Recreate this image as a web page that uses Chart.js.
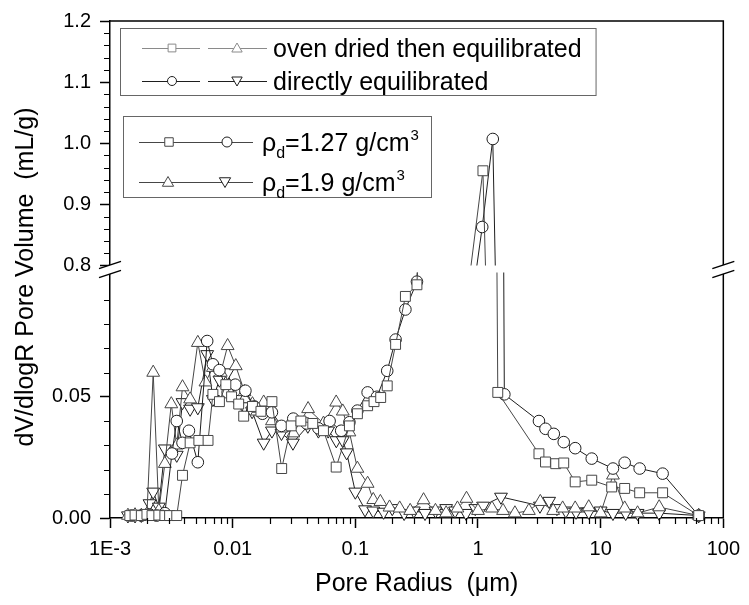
<!DOCTYPE html>
<html lang="en">
<head>
<meta charset="UTF-8">
<title>Pore size distribution</title>
<script src="https://cdn.jsdelivr.net/npm/chart.js"></script>
<style>
  body { margin: 0; background: #fff; }
</style>
</head>
<body>
<canvas id="myChart" width="749" height="605"></canvas>
<script>
// pore radius (um) and dV/dlogR (mL/g)
const sqX = [0.00145, 0.0016, 0.0018, 0.002, 0.0022, 0.0025, 0.0028, 0.00306, 0.0035, 0.0039, 0.0045, 0.0053, 0.0063, 0.0069, 0.0078, 0.0088, 0.0098, 0.0112, 0.0123, 0.0145, 0.017, 0.0209, 0.0251, 0.03, 0.036, 0.045, 0.055, 0.0698, 0.0895, 0.104, 0.126, 0.142, 0.161, 0.182, 0.213, 0.256, 0.318, 1.097, 1.45, 3.14, 3.55, 4.3, 5.0, 6.2, 8.46, 12.3, 15.7, 20.8, 32, 63];
const sqY = [0.001, 0.0012, 0.001, 0.0015, 0.001, 0.0012, 0.001, 0.001, 0.001, 0.0176, 0.031, 0.032, 0.032, 0.051, 0.048, 0.055, 0.050, 0.047, 0.042, 0.046, 0.044, 0.048, 0.0204, 0.038, 0.040, 0.039, 0.036, 0.021, 0.038, 0.043, 0.0463, 0.048, 0.0497, 0.0545, 0.0716, 0.0914, 0.0962, 0.955, 0.0518, 0.0265, 0.0231, 0.0224, 0.0227, 0.0149, 0.0156, 0.0128, 0.0122, 0.0104, 0.0104, 0.001];

const ciX = [0.0015, 0.0018, 0.0021, 0.0024, 0.0028, 0.0032, 0.0035, 0.0039, 0.0044, 0.0052, 0.0062, 0.0069, 0.0078, 0.0091, 0.0105, 0.0127, 0.015, 0.0175, 0.0209, 0.025, 0.0312, 0.04, 0.05, 0.0617, 0.0767, 0.0895, 0.104, 0.126, 0.15, 0.182, 0.213, 0.256, 0.318, 1.083, 1.32, 1.64, 3.14, 3.55, 4.15, 5.0, 6.2, 8.46, 12.6, 15.7, 20.8, 32, 63];
const ciY = [0.001, 0.001, 0.0015, 0.001, 0.002, 0.0266, 0.040, 0.031, 0.036, 0.023, 0.073, 0.0634, 0.061, 0.0518, 0.055, 0.0525, 0.046, 0.043, 0.0436, 0.038, 0.041, 0.039, 0.037, 0.040, 0.036, 0.0395, 0.0443, 0.0518, 0.050, 0.0607, 0.0736, 0.086, 0.0975, 0.863, 1.007, 0.051, 0.040, 0.0368, 0.0347, 0.0313, 0.0288, 0.0245, 0.0204, 0.0228, 0.0204, 0.0183, 0.001];

const trX = [0.0014, 0.0016, 0.0018, 0.002, 0.00225, 0.0025, 0.0028, 0.00316, 0.0035, 0.0039, 0.0045, 0.0052, 0.006, 0.0069, 0.008, 0.0091, 0.0106, 0.0125, 0.0145, 0.0158, 0.0179, 0.0209, 0.025, 0.0312, 0.0412, 0.055, 0.0698, 0.079, 0.0895, 0.104, 0.126, 0.14, 0.16, 0.19, 0.23, 0.28, 0.36, 0.45, 0.55, 0.68, 0.806, 1.0, 1.3, 1.6, 2.0, 2.6, 3.22, 4.1, 4.9, 6.2, 8.0, 10, 12.6, 15.7, 20, 30, 63];
const trY = [0.001, 0.0012, 0.001, 0.0015, 0.060, 0.003, 0.0224, 0.047, 0.030, 0.054, 0.049, 0.0723, 0.056, 0.062, 0.060, 0.071, 0.0627, 0.052, 0.047, 0.044, 0.0477, 0.040, 0.037, 0.035, 0.045, 0.039, 0.0477, 0.044, 0.0354, 0.0204, 0.0142, 0.0075, 0.0067, 0.0044, 0.004, 0.003, 0.0074, 0.003, 0.002, 0.004, 0.008, 0.003, 0.004, 0.003, 0.002, 0.003, 0.0067, 0.003, 0.004, 0.004, 0.0045, 0.002, 0.0176, 0.004, 0.002, 0.0045, 0.001];

const itX = [0.0014, 0.0016, 0.0018, 0.0021, 0.00225, 0.0025, 0.0028, 0.0035, 0.0039, 0.0045, 0.0052, 0.0062, 0.0069, 0.0078, 0.0091, 0.0106, 0.0125, 0.0144, 0.0179, 0.0209, 0.025, 0.031, 0.041, 0.05, 0.06, 0.07, 0.079, 0.085, 0.1, 0.12, 0.14, 0.17, 0.2, 0.25, 0.3, 0.37, 0.45, 0.55, 0.65, 0.8, 0.95, 1.1, 1.54, 3.2, 3.8, 4.4, 5.2, 6.3, 8, 10, 12.6, 16, 20, 30, 63];
const itY = [0.001, 0.001, 0.0012, 0.006, 0.0108, 0.0046, 0.0286, 0.026, 0.0477, 0.045, 0.0456, 0.0675, 0.049, 0.057, 0.060, 0.049, 0.046, 0.044, 0.031, 0.036, 0.035, 0.031, 0.038, 0.036, 0.036, 0.032, 0.032, 0.027, 0.0108, 0.0035, 0.003, 0.0025, 0.004, 0.002, 0.003, 0.002, 0.003, 0.004, 0.003, 0.002, 0.004, 0.005, 0.0087, 0.005, 0.007, 0.004, 0.003, 0.0025, 0.0025, 0.003, 0.002, 0.002, 0.002, 0.002, 0.001];

// tick labels
const xDecades = [0.001, 0.01, 0.1, 1, 10, 100];
const xDecadeLabels = ['1E-3', '0.01', '0.1', '1', '10', '100'];
const yLowTicks = [0, 0.01, 0.02, 0.03, 0.04, 0.05, 0.06, 0.07, 0.08, 0.09];
const yLowLabels = ['0.00', '', '', '', '', '0.05', '', '', '', ''];
const yHighTicks = [0.8, 0.82, 0.84, 0.86, 0.88, 0.9, 0.92, 0.94, 0.96, 0.98, 1.0, 1.02, 1.04, 1.06, 1.08, 1.1, 1.12, 1.14, 1.16, 1.18, 1.2];
const yHighLabels = ['0.8', '', '', '', '', '0.9', '', '', '', '', '1.0', '', '', '', '', '1.1', '', '', '', '', '1.2'];

const xTicks = [];
const xLabels = [];
xDecades.forEach((d, i) => {
  if (i === xDecades.length - 1) { xTicks.push(d); xLabels.push(xDecadeLabels[i]); return; }
  for (let m = 1; m <= 9; m++) {
    xTicks.push(+(d * m).toPrecision(3));
    xLabels.push(m === 1 ? xDecadeLabels[i] : '');
  }
});

const FONT = 'Liberation Sans, Arial, sans-serif';
const OVEN = '#464646';
const DIRECT = '#1e1e1e';

function pts(xs, ys) {
  return xs.map((x, i) => ({ x: x, y: ys[i] }));
}

const series = [
  { x: sqX, y: sqY, style: 'rect', r: 7, rot: 0, color: OVEN },
  { x: ciX, y: ciY, style: 'circle', r: 5.8, rot: 0, color: DIRECT },
  { x: trX, y: trY, style: 'triangle', r: 7.4, rot: 0, color: OVEN },
  { x: itX, y: itY, style: 'triangle', r: 7.4, rot: 180, color: DIRECT }
];

const datasets = [];
// each series is drawn once in the lower panel and once in the upper panel
['y', 'y2'].forEach(axis => {
  series.forEach(s => {
    datasets.push({
      data: pts(s.x, s.y),
      yAxisID: axis,
      showLine: true,
      borderColor: s.color,
      borderWidth: 1,
      pointStyle: s.style,
      pointRotation: s.rot,
      pointRadius: s.r,
      pointBorderWidth: 1,
      pointBorderColor: s.color,
      pointBackgroundColor: '#fff',
      clip: axis === 'y' ? { left: 10, right: 10, top: -3, bottom: 10 } : { left: 10, right: 10, top: 10, bottom: -4 }
    });
  });
});

function tickCol(labels) {
  return c => (labels[c.index] ? '#000' : 'rgba(0,0,0,0)');
}

const decor = {
  id: 'decor',
  afterDraw(chart) {
    const { ctx, chartArea: a, scales } = chart;
    ctx.save();
    ctx.strokeStyle = '#000';
    ctx.lineWidth = 1.5;
    ctx.beginPath();
    ctx.moveTo(a.left, a.top);
    ctx.lineTo(a.right, a.top);
    ctx.lineTo(a.right, a.bottom);
    ctx.stroke();

    // minor ticks
    ctx.lineWidth = 1.2;
    ctx.beginPath();
    scales.x.ticks.forEach((t, i) => {
      if (xLabels[i]) return;
      const px = Math.round(scales.x.getPixelForValue(t.value)) + 0.5;
      ctx.moveTo(px, a.bottom);
      ctx.lineTo(px, a.bottom + 6);
    });
    [['y', yLowLabels], ['y2', yHighLabels]].forEach(([id, labels]) => {
      const s = scales[id];
      s.ticks.forEach((t, i) => {
        if (labels[i]) return;
        const py = Math.round(s.getPixelForValue(t.value)) + 0.5;
        ctx.moveTo(a.left - 6, py);
        ctx.lineTo(a.left, py);
      });
    });
    ctx.stroke();

    // axis break marks
    const yb = scales.y.top;
    const hw = 11, sl = 0.33, g = 4.5;
    [a.left, a.right].forEach(x => {
      ctx.fillStyle = '#fff';
      ctx.beginPath();
      ctx.moveTo(x - hw, yb - g + hw * sl);
      ctx.lineTo(x + hw, yb - g - hw * sl);
      ctx.lineTo(x + hw, yb + g - hw * sl);
      ctx.lineTo(x - hw, yb + g + hw * sl);
      ctx.closePath();
      ctx.fill();
      ctx.lineWidth = 1.5;
      ctx.beginPath();
      ctx.moveTo(x - hw, yb - g + hw * sl);
      ctx.lineTo(x + hw, yb - g - hw * sl);
      ctx.moveTo(x - hw, yb + g + hw * sl);
      ctx.lineTo(x + hw, yb + g - hw * sl);
      ctx.stroke();
    });

    // y axis title
    ctx.fillStyle = '#000';
    ctx.font = '25px ' + FONT;
    ctx.textAlign = 'center';
    ctx.textBaseline = 'middle';
    ctx.translate(26, 277);
    ctx.rotate(-Math.PI / 2);
    ctx.fillText('dV/dlogR Pore Volume  (mL/g)', 0, 0);
    ctx.restore();

    drawLegends(ctx);
  }
};

function marker(ctx, style, rot, r, x, y, color) {
  ctx.fillStyle = '#fff';
  ctx.strokeStyle = color;
  ctx.lineWidth = 1;
  Chart.helpers.drawPoint(ctx, { pointStyle: style, rotation: rot, radius: r, borderWidth: 1 }, x, y);
}

function hline(ctx, x1, x2, y, color) {
  ctx.strokeStyle = color;
  ctx.lineWidth = 1;
  ctx.beginPath();
  ctx.moveTo(x1, y + 0.5);
  ctx.lineTo(x2, y + 0.5);
  ctx.stroke();
}

function rhoText(ctx, x, y, rest) {
  ctx.textAlign = 'left';
  ctx.textBaseline = 'alphabetic';
  ctx.font = '25px ' + FONT;
  ctx.fillText('\u03c1', x, y);
  x += ctx.measureText('\u03c1').width;
  ctx.font = '16px ' + FONT;
  ctx.fillText('d', x, y + 7);
  x += ctx.measureText('d').width;
  ctx.font = '25px ' + FONT;
  ctx.fillText(rest, x, y);
  x += ctx.measureText(rest).width + 1;
  ctx.font = '15px ' + FONT;
  ctx.fillText('3', x, y - 11);
}

function drawLegends(ctx) {
  ctx.save();
  // legend 1: preparation
  const LIGHT = '#8a8a8a';
  ctx.font = '25px ' + FONT;
  const w1 = ctx.measureText('oven dried then equilibrated').width;
  ctx.strokeStyle = '#666';
  ctx.lineWidth = 1;
  ctx.strokeRect(120.5, 28.5, 273 + w1 + 14 - 120, 67);
  let y = 48;
  hline(ctx, 142, 200, y, LIGHT);
  hline(ctx, 208, 267, y, LIGHT);
  marker(ctx, 'rect', 0, 5.5, 172, y, LIGHT);
  marker(ctx, 'triangle', 0, 6, 237, y + 1, LIGHT);
  y = 81;
  hline(ctx, 142, 200, y, DIRECT);
  hline(ctx, 208, 267, y, DIRECT);
  marker(ctx, 'circle', 0, 4.5, 172, y, DIRECT);
  marker(ctx, 'triangle', 180, 6, 237, y - 1, DIRECT);
  ctx.fillStyle = '#000';
  ctx.font = '25px ' + FONT;
  ctx.textAlign = 'left';
  ctx.textBaseline = 'alphabetic';
  ctx.fillText('oven dried then equilibrated', 273, 57);
  ctx.fillText('directly equilibrated', 273, 90);

  // legend 2: dry density
  ctx.strokeStyle = '#666';
  ctx.strokeRect(123.5, 116.5, 308, 81);
  y = 142;
  hline(ctx, 139, 253, y, OVEN);
  marker(ctx, 'rect', 0, 6, 169, y, OVEN);
  marker(ctx, 'circle', 0, 5, 227, y, DIRECT);
  y = 182;
  hline(ctx, 139, 253, y, OVEN);
  marker(ctx, 'triangle', 0, 6.5, 168, y + 1, OVEN);
  marker(ctx, 'triangle', 180, 6.5, 225, y - 1, DIRECT);
  ctx.fillStyle = '#000';
  rhoText(ctx, 262, 151, '=1.27 g/cm');
  rhoText(ctx, 262, 191, '=1.9 g/cm');
  ctx.restore();
}

const ctx = document.getElementById('myChart').getContext('2d');
const myChart = new Chart(ctx, {
  type: 'scatter',
  data: { datasets: datasets },
  plugins: [decor],
  options: {
    responsive: false,
    animation: false,
    devicePixelRatio: 1,
    layout: { padding: { top: 18, right: 21, left: 0, bottom: 0 } },
    plugins: { legend: { display: false }, tooltip: { enabled: false } },
    elements: { line: { tension: 0 } },
    scales: {
      x: {
        type: 'logarithmic',
        min: 0.001,
        max: 100,
        afterBuildTicks: s => { s.ticks = xTicks.map(v => ({ value: v })); },
        afterFit: s => { s.height = 87; },
        ticks: {
          autoSkip: false,
          maxRotation: 0,
          padding: 9,
          color: '#000',
          font: { family: FONT, size: 20 },
          callback: (v, i) => xLabels[i]
        },
        grid: { drawOnChartArea: false, tickLength: 10, tickWidth: 1.5, tickColor: tickCol(xLabels) },
        border: { color: '#000', width: 1.5 },
        title: { display: true, text: 'Pore Radius  (\u03bcm)', color: '#000', font: { family: FONT, size: 25 }, padding: { top: 4, bottom: 6 } }
      },
      y: {
        type: 'linear',
        position: 'left',
        stack: 'yb',
        stackWeight: 1,
        min: 0,
        max: 0.1025,
        afterBuildTicks: s => { s.ticks = yLowTicks.map(v => ({ value: v })); },
        afterFit: s => { s.width = 110; },
        ticks: {
          autoSkip: false,
          padding: 9,
          color: '#000',
          font: { family: FONT, size: 20 },
          callback: (v, i) => yLowLabels[i]
        },
        grid: { drawOnChartArea: false, tickLength: 10, tickWidth: 1.5, tickColor: tickCol(yLowLabels) },
        border: { color: '#000', width: 1.5 }
      },
      y2: {
        type: 'linear',
        position: 'left',
        stack: 'yb',
        stackWeight: 1,
        min: 0.7935,
        max: 1.2,
        afterBuildTicks: s => { s.ticks = yHighTicks.map(v => ({ value: v })); },
        afterFit: s => { s.width = 110; },
        ticks: {
          autoSkip: false,
          padding: 9,
          color: '#000',
          font: { family: FONT, size: 20 },
          callback: (v, i) => yHighLabels[i]
        },
        grid: { drawOnChartArea: false, tickLength: 10, tickWidth: 1.5, tickColor: tickCol(yHighLabels) },
        border: { color: '#000', width: 1.5 }
      }
    }
  }
});
</script>
</body>
</html>
